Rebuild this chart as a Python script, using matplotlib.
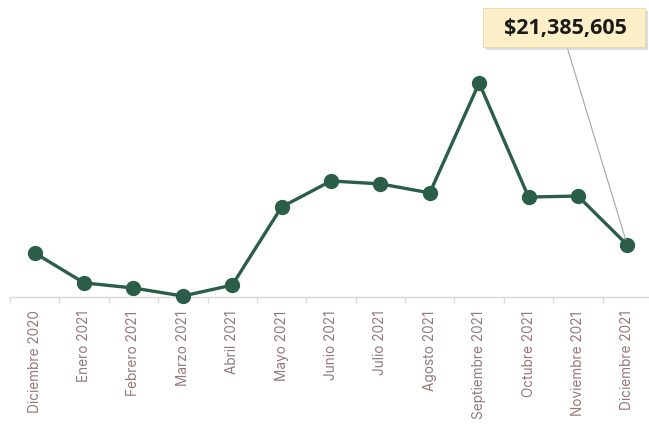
import numpy as np
import matplotlib.pyplot as plt
from matplotlib.patches import FancyBboxPatch

meses = ["Diciembre 2020", "Enero 2021", "Febrero 2021", "Marzo 2021", "Abril 2021",
         "Mayo 2021", "Junio 2021", "Julio 2021", "Agosto 2021", "Septiembre 2021",
         "Octubre 2021", "Noviembre 2021", "Diciembre 2021"]
ventas = [18.1e6, 5.8e6, 3.7e6, 0.4e6, 4.9e6, 37.0e6, 47.7e6, 46.5e6,
          42.8e6, 88.0e6, 41.1e6, 41.5e6, 21385605]
etiqueta = "${:,.0f}".format(ventas[-1])

W, H = 649, 427
fig = plt.figure(figsize=(W / 100, H / 100), dpi=100)
ax = fig.add_axes([10 / W, (H - 298) / H, 642 / W, 288 / H])

x = np.arange(len(meses))
ax.plot(x, ventas, color="#2b5e48", lw=2.4, marker="o", ms=10,
        markerfacecolor="#2b5e48", markeredgecolor="#2b5e48", zorder=3,
        clip_on=False)

ax.set_xlim(-0.5, len(meses) - 0.5)
ax.set_ylim(0, 118.4e6)
ax.set_yticks([])
for s in ["top", "right", "left"]:
    ax.spines[s].set_visible(False)
ax.spines["bottom"].set_color("#d9d9d9")
ax.spines["bottom"].set_linewidth(1.0)

ax.set_xticks(x)
ax.set_xticklabels(meses, rotation=90, fontsize=9.8, color="#94777a",
                   family="Inter", va="top")
ax.tick_params(axis="x", length=0, pad=9)
ax.set_xticks(np.arange(-0.5, len(meses)), minor=True)
ax.tick_params(axis="x", which="minor", length=4, color="#d9d9d9", width=1)

# linea guia desde la etiqueta al ultimo punto
ax.annotate("", xy=(x[-1], ventas[-1]), xytext=(567 / W, (H - 48) / H),
            textcoords="figure fraction",
            arrowprops=dict(arrowstyle="-", color="#a6a6a6", lw=0.8,
                            shrinkA=0, shrinkB=4))

# cuadro de la etiqueta con sombra
bx0, by0, bw, bh = 483, 9, 162, 39
shadow = FancyBboxPatch(((bx0 + 3) / W, (H - by0 - bh - 3) / H), bw / W, bh / H,
                        boxstyle="square,pad=0", transform=fig.transFigure,
                        facecolor="#cfcfcf", edgecolor="none", alpha=0.7)
box = FancyBboxPatch((bx0 / W, (H - by0 - bh) / H), bw / W, bh / H,
                     boxstyle="square,pad=0", transform=fig.transFigure,
                     facecolor="#fdf0c8", edgecolor="#e8d9a8", lw=0.6)
fig.patches.extend([shadow, box])
fig.text((bx0 + bw / 2 + 1) / W, (H - by0 - bh / 2) / H, etiqueta,
         ha="center", va="center", fontsize=15.5, fontweight="bold",
         family="Open Sans", color="#1a1a1a")

fig.savefig("out.png", dpi=100)
